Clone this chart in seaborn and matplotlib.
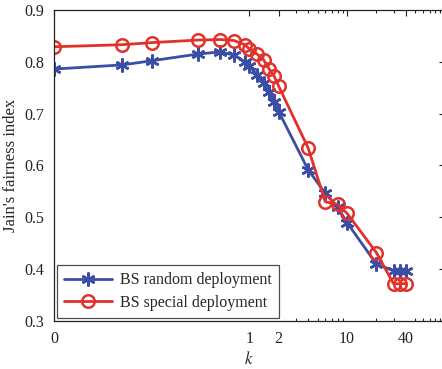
import numpy as np
import pandas as pd
import seaborn as sns
import matplotlib.pyplot as plt
from matplotlib.ticker import FixedLocator, FixedFormatter, NullFormatter

# k values (0 is drawn at the left edge of the log axis)
k_values = [0, 0.05, 0.1, 0.3, 0.5, 0.7, 0.9, 1.0, 1.2, 1.4, 1.6, 1.8, 2,
            4, 6, 8, 10, 20, 30, 35, 40]
random_dep = [0.786, 0.794, 0.802, 0.815, 0.819, 0.813, 0.800, 0.792, 0.775,
              0.759, 0.742, 0.723, 0.704, 0.592, 0.546, 0.520, 0.490, 0.410,
              0.397, 0.397, 0.397]
special_dep = [0.829, 0.833, 0.837, 0.842, 0.843, 0.841, 0.833, 0.825, 0.815,
               0.804, 0.786, 0.772, 0.753, 0.634, 0.530, 0.525, 0.508, 0.432,
               0.372, 0.372, 0.372]

xtick_pos = [0.01, 1, 2, 10, 40]
xtick_labels = ['0', '1', '2', '10', '40']
yticks = [0.3, 0.4, 0.5, 0.6, 0.7, 0.8, 0.9]

sns.set_style('white')
plt.rcParams['font.family'] = ['Liberation Serif', 'DejaVu Serif']
plt.rcParams['mathtext.fontset'] = 'stix'

x_plot = [k if k > 0 else 0.01 for k in k_values]
df = pd.DataFrame({'k': x_plot, 'random': random_dep, 'special': special_dep})

blue = '#3a4ea6'
red = '#e2312b'

fig = plt.figure(figsize=(4.42, 3.69), dpi=100)
ax = fig.add_axes([0.122, 0.130, 0.884, 0.843])
ax.set_xscale('log')

sns.lineplot(data=df, x='k', y='random', ax=ax, color=blue, lw=2,
             marker=(6, 2, 0), markersize=10, markeredgecolor=blue,
             markeredgewidth=1.8, estimator=None, label='BS random deployment')
sns.lineplot(data=df, x='k', y='special', ax=ax, color=red, lw=2,
             marker='o', markersize=9, markerfacecolor='none',
             markeredgecolor=red, markeredgewidth=1.8, estimator=None,
             label='BS special deployment')

ax.set_xlim(0.01, 100)
ax.set_ylim(0.3, 0.9)
ax.set_yticks(yticks)
ax.set_yticklabels([f'{v:.1f}' for v in yticks])
ax.xaxis.set_major_locator(FixedLocator(xtick_pos))
ax.xaxis.set_major_formatter(FixedFormatter(xtick_labels))
minor = [3, 4, 5, 6, 7, 8, 9, 20, 30, 50, 60, 70, 80, 90]
ax.xaxis.set_minor_locator(FixedLocator(minor))
ax.xaxis.set_minor_formatter(NullFormatter())

ax.tick_params(axis='both', which='major', direction='in', length=4,
               width=0.8, top=True, right=True, labelsize=11.5,
               colors='#222222', pad=7)
ax.tick_params(axis='x', which='minor', direction='in', length=2.5,
               width=0.8, top=True, bottom=True)
for s in ax.spines.values():
    s.set_color('#222222')
    s.set_linewidth(0.9)

ax.set_xlabel('$k$', fontsize=12, labelpad=3)
ax.set_ylabel("Jain's fairness index", fontsize=12, labelpad=4)

leg = ax.legend(loc='lower left', fontsize=11.5, frameon=True, fancybox=False,
                edgecolor='#222222', borderaxespad=0.2, handlelength=3.0,
                borderpad=0.45, labelspacing=0.4, handletextpad=0.5)
leg.get_frame().set_linewidth(0.9)

fig.savefig('out.png', dpi=100)
